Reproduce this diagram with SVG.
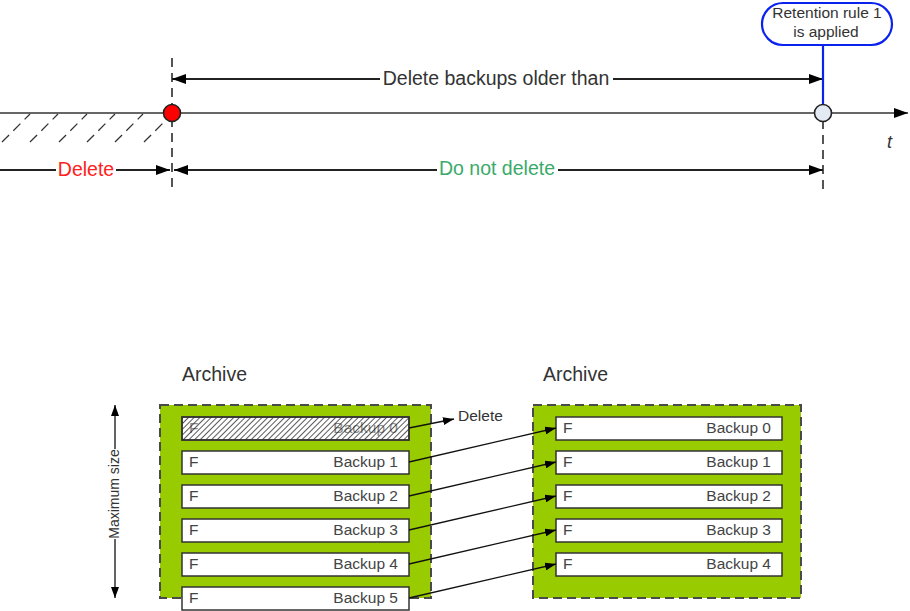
<svg xmlns="http://www.w3.org/2000/svg" width="910" height="611" viewBox="0 0 910 611">
<style>
text{font-family:"Liberation Sans",Arial,sans-serif;fill:#333}
.ln{stroke:#222;stroke-width:2;fill:none}
.thin{stroke:#111;stroke-width:1.3;fill:none}
.dash{stroke:#555;stroke-width:2;stroke-dasharray:9,6;fill:none}
.hatchl{stroke:#333;stroke-width:1.3;stroke-dasharray:10,6;fill:none}
.box{fill:#99cc00;stroke:#4a4a4a;stroke-width:2;stroke-dasharray:9,5}
.row{fill:#fff;stroke:#333;stroke-width:1.5}
.rt{font-size:15.5px;fill:#444}
.big{font-size:19.5px}
</style>
<defs>
<marker id="a" viewBox="0 0 14 10" refX="14" refY="5" markerWidth="14" markerHeight="10" markerUnits="userSpaceOnUse" orient="auto-start-reverse"><path d="M0,0L14,5L0,10z" fill="#000"/></marker>
<marker id="s" viewBox="0 0 11 8" refX="11" refY="4" markerWidth="11" markerHeight="8" markerUnits="userSpaceOnUse" orient="auto-start-reverse"><path d="M0,0L11,4L0,8z" fill="#000"/></marker>
<pattern id="h" width="4" height="4" patternUnits="userSpaceOnUse" patternTransform="rotate(45)"><line x1="0" y1="0" x2="0" y2="4" stroke="#222" stroke-width="1.5"/></pattern>
</defs>

<g id="timeline">
<g id="hatching">
<line class="hatchl" x1="2" y1="142" x2="30" y2="114"/>
<line class="hatchl" x1="30" y1="142" x2="58" y2="114"/>
<line class="hatchl" x1="59" y1="142" x2="87" y2="114"/>
<line class="hatchl" x1="87" y1="142" x2="115" y2="114"/>
<line class="hatchl" x1="115" y1="142" x2="143" y2="114"/>
<line class="hatchl" x1="144" y1="142" x2="165" y2="121"/>
</g>
<line class="dash" x1="172" y1="58" x2="172" y2="190"/>
<line class="dash" x1="823" y1="120" x2="823" y2="190"/>
<line x1="0" y1="113" x2="908" y2="113" stroke="#333" stroke-width="1.6" marker-end="url(#a)"/>
</g>

<g id="labels">
<text class="big" x="496" y="85" text-anchor="middle">Delete backups older than</text>
<text class="big" x="86" y="176" text-anchor="middle" style="fill:#ff2020">Delete</text>
<text class="big" x="497" y="175" text-anchor="middle" style="fill:#3aaa6a">Do not delete</text>
<text x="887" y="148" style="font-size:18px;font-style:italic">t</text>
<text x="458" y="421" style="font-size:15.5px">Delete</text>
<text transform="translate(119,494) rotate(-90)" text-anchor="middle" style="font-size:14px">Maximum size</text>
<text class="big" x="182" y="381">Archive</text>
<text class="big" x="543" y="381">Archive</text>
</g>

<g id="callout">
<rect x="762" y="3" width="130" height="42" rx="21" fill="#fff" stroke="#0a22ee" stroke-width="2.2"/>
<text x="827" y="18" text-anchor="middle" style="font-size:15.5px">Retention rule 1</text>
<text x="826" y="37" text-anchor="middle" style="font-size:15.5px">is applied</text>
</g>

<g id="archive-left">
<rect class="box" x="160" y="405" width="271" height="193"/>
<g id="l0"><rect class="row" x="182" y="417" width="227" height="23"/><text class="rt" x="189" y="433" style="fill:#888">F</text><text class="rt" x="398" y="433" text-anchor="end" style="fill:#888">Backup 0</text><rect x="182" y="417" width="227" height="23" fill="url(#h)" stroke="#333" stroke-width="1.5"/></g>
<g id="l1"><rect class="row" x="182" y="451" width="227" height="23"/><text class="rt" x="189" y="467">F</text><text class="rt" x="398" y="467" text-anchor="end">Backup 1</text></g>
<g id="l2"><rect class="row" x="182" y="485" width="227" height="23"/><text class="rt" x="189" y="501">F</text><text class="rt" x="398" y="501" text-anchor="end">Backup 2</text></g>
<g id="l3"><rect class="row" x="182" y="519" width="227" height="23"/><text class="rt" x="189" y="535">F</text><text class="rt" x="398" y="535" text-anchor="end">Backup 3</text></g>
<g id="l4"><rect class="row" x="182" y="553" width="227" height="23"/><text class="rt" x="189" y="569">F</text><text class="rt" x="398" y="569" text-anchor="end">Backup 4</text></g>
<g id="l5"><rect class="row" x="182" y="587" width="227" height="23"/><text class="rt" x="189" y="603">F</text><text class="rt" x="398" y="603" text-anchor="end">Backup 5</text></g>
</g>

<g id="archive-right">
<rect class="box" x="533" y="405" width="268" height="193"/>
<g id="r0"><rect class="row" x="556" y="417" width="226" height="23"/><text class="rt" x="563" y="433">F</text><text class="rt" x="771" y="433" text-anchor="end">Backup 0</text></g>
<g id="r1"><rect class="row" x="556" y="451" width="226" height="23"/><text class="rt" x="563" y="467">F</text><text class="rt" x="771" y="467" text-anchor="end">Backup 1</text></g>
<g id="r2"><rect class="row" x="556" y="485" width="226" height="23"/><text class="rt" x="563" y="501">F</text><text class="rt" x="771" y="501" text-anchor="end">Backup 2</text></g>
<g id="r3"><rect class="row" x="556" y="519" width="226" height="23"/><text class="rt" x="563" y="535">F</text><text class="rt" x="771" y="535" text-anchor="end">Backup 3</text></g>
<g id="r4"><rect class="row" x="556" y="553" width="226" height="23"/><text class="rt" x="563" y="569">F</text><text class="rt" x="771" y="569" text-anchor="end">Backup 4</text></g>
</g>

<g id="connectors">
<line class="ln" x1="172" y1="79" x2="380" y2="79" marker-start="url(#a)"/>
<line class="ln" x1="613" y1="79" x2="823" y2="79" marker-end="url(#a)"/>
<line class="ln" x1="0" y1="170" x2="56" y2="170"/>
<line class="ln" x1="116" y1="170" x2="170" y2="170" marker-end="url(#a)"/>
<line class="ln" x1="174" y1="170" x2="437" y2="170" marker-start="url(#a)"/>
<line class="ln" x1="558" y1="170" x2="823" y2="170" marker-end="url(#a)"/>
<line x1="823" y1="45" x2="823" y2="105" stroke="#0a22ee" stroke-width="2.2"/>
<line class="thin" x1="115" y1="405" x2="115" y2="449" marker-start="url(#s)"/>
<line class="thin" x1="115" y1="539" x2="115" y2="598" marker-end="url(#s)"/>
<line class="thin" x1="409" y1="428" x2="454" y2="419" marker-end="url(#s)"/>
<line class="thin" x1="409" y1="462" x2="556" y2="428" marker-end="url(#s)"/>
<line class="thin" x1="409" y1="496" x2="556" y2="462" marker-end="url(#s)"/>
<line class="thin" x1="409" y1="530" x2="556" y2="496" marker-end="url(#s)"/>
<line class="thin" x1="409" y1="564" x2="556" y2="530" marker-end="url(#s)"/>
<line class="thin" x1="409" y1="598" x2="556" y2="564" marker-end="url(#s)"/>
</g>

<g id="point-start"><circle cx="172" cy="113" r="8.5" fill="#ff0000" stroke="#222" stroke-width="1.6"/></g>
<g id="point-now"><circle cx="823" cy="113" r="8.5" fill="#e4eaf4" stroke="#222" stroke-width="1.6"/></g>
</svg>
